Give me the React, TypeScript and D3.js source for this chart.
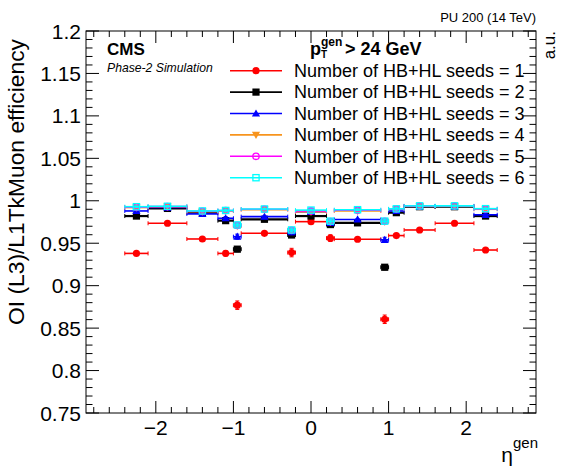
import React from "react";
import * as d3 from "d3";

const binEdges = [-2.4, -2.1, -1.6, -1.2, -1.0, -0.9, -0.3, -0.2, 0.2, 0.3, 0.9, 1.0, 1.2, 1.6, 2.1, 2.4];

const seeds1 = [0.938, 0.9735, 0.955, 0.938, 0.877, 0.9617, 0.939, 0.9754, 0.956, 0.9547, 0.8604, 0.959, 0.9656, 0.9735, 0.942];
const seeds1Err = [0.002, 0.001, 0.0015, 0.003, 0.005, 0.001, 0.005, 0.0015, 0.004, 0.001, 0.005, 0.002, 0.001, 0.001, 0.0015];
const seeds2 = [0.982, 0.991, 0.986, 0.9766, 0.943, 0.9782, 0.9597, 0.982, 0.972, 0.974, 0.9217, 0.986, 0.993, 0.993, 0.982];
const seeds2Err = [0.0015, 0.001, 0.001, 0.002, 0.003, 0.001, 0.003, 0.001, 0.002, 0.001, 0.003, 0.002, 0.001, 0.001, 0.0015];
const seeds3 = [0.988, 0.992, 0.9845, 0.9794, 0.9577, 0.9813, 0.963, 0.987, 0.974, 0.978, 0.954, 0.988, 0.9935, 0.9935, 0.9835];
const seeds3Err = [0.0015, 0.001, 0.001, 0.002, 0.003, 0.001, 0.003, 0.001, 0.002, 0.001, 0.003, 0.002, 0.001, 0.001, 0.0015];
const seeds4 = [0.992, 0.993, 0.9872, 0.988, 0.9705, 0.9895, 0.965, 0.987, 0.9752, 0.988, 0.9755, 0.99, 0.9935, 0.9935, 0.990];
const seeds5 = [0.9925, 0.9932, 0.9876, 0.9884, 0.971, 0.99, 0.9653, 0.988, 0.9756, 0.9888, 0.9758, 0.9902, 0.9938, 0.9938, 0.9904];
const seeds6 = [0.993, 0.9935, 0.988, 0.9886, 0.9715, 0.9903, 0.9656, 0.989, 0.976, 0.9895, 0.976, 0.9905, 0.994, 0.994, 0.9907];
const smallErr = [0.001, 0.001, 0.001, 0.0015, 0.002, 0.001, 0.002, 0.001, 0.002, 0.001, 0.002, 0.0015, 0.001, 0.001, 0.001];

const legendLabels = [
  "Number of HB+HL seeds = 1",
  "Number of HB+HL seeds = 2",
  "Number of HB+HL seeds = 3",
  "Number of HB+HL seeds = 4",
  "Number of HB+HL seeds = 5",
  "Number of HB+HL seeds = 6",
];
const colors = ["#ff0000", "#000000", "#0000ff", "#f7941d", "#ff00ff", "#00ffff"];
const markers = ["circle", "square", "triangle", "invtriangle", "opencircle", "opensquare"];

const yTicks = [0.75, 0.8, 0.85, 0.9, 0.95, 1.0, 1.05, 1.1, 1.15, 1.2];
const yTickLabels = ["0.75", "0.8", "0.85", "0.9", "0.95", "1", "1.05", "1.1", "1.15", "1.2"];
const xTicks = [-2, -1, 0, 1, 2];
const xTickLabels = ["\u22122", "\u22121", "0", "1", "2"];

const FONT = "'Liberation Sans', Arial, Helvetica, sans-serif";

const L = 86, R = 536, T = 31, B = 413;

function Marker({ type, x, y, color }: { type: string; x: number; y: number; color: string }) {
  const s = 3.6;
  switch (type) {
    case "circle":
      return <circle cx={x} cy={y} r={s} fill={color} />;
    case "square":
      return <rect x={x - s} y={y - s} width={2 * s} height={2 * s} fill={color} />;
    case "triangle":
      return <path d={`M${x},${y - s - 0.5}L${x + s + 0.5},${y + s - 0.5}L${x - s - 0.5},${y + s - 0.5}Z`} fill={color} />;
    case "invtriangle":
      return <path d={`M${x},${y + s + 0.5}L${x + s + 0.5},${y - s + 0.5}L${x - s - 0.5},${y - s + 0.5}Z`} fill={color} />;
    case "opencircle":
      return <circle cx={x} cy={y} r={s - 0.4} fill="none" stroke={color} strokeWidth={1.3} />;
    default:
      return <rect x={x - s + 0.5} y={y - s + 0.5} width={2 * s - 1} height={2 * s - 1} fill="none" stroke={color} strokeWidth={1.3} />;
  }
}

export default function App() {
  const x = d3.scaleLinear().domain([-2.9, 2.9]).range([L, R]);
  const y = d3.scaleLinear().domain([0.75, 1.2]).range([B, T]);

  const series = [
    { vals: seeds1, errs: seeds1Err },
    { vals: seeds2, errs: seeds2Err },
    { vals: seeds3, errs: seeds3Err },
    { vals: seeds4, errs: smallErr },
    { vals: seeds5, errs: smallErr },
    { vals: seeds6, errs: smallErr },
  ];

  const yMinor = d3.range(75, 121).map((v) => v / 100);
  const xMinor = d3.range(-14, 15).map((v) => v / 5);

  const legendY = [70.7, 92.1, 113.5, 134.9, 156.3, 177.7];

  return (
    <svg width={564} height={466} style={{ position: "absolute", left: 0, top: 0, background: "#fff" }} fontFamily={FONT}>
      <rect x={0} y={0} width={564} height={466} fill="#fff" />
      {series.map((s, si) => (
        <g key={si}>
          {s.vals.map((v, i) => {
            const x0 = x(binEdges[i]);
            const x1 = x(binEdges[i + 1]);
            const xc = x((binEdges[i] + binEdges[i + 1]) / 2);
            const yc = y(v);
            const yl = y(v - s.errs[i]);
            const yh = y(v + s.errs[i]);
            const sw = si === 1 ? 2.2 : 1.6;
            return (
              <g key={i} stroke={colors[si]} strokeWidth={sw}>
                <line x1={x0} x2={x1} y1={yc} y2={yc} />
                <line x1={x0} x2={x0} y1={yc - 2} y2={yc + 2} strokeWidth={1} />
                <line x1={x1} x2={x1} y1={yc - 2} y2={yc + 2} strokeWidth={1} />
                <line x1={xc} x2={xc} y1={yl} y2={yh} />
                <line x1={xc - 2} x2={xc + 2} y1={yl} y2={yl} strokeWidth={1} />
                <line x1={xc - 2} x2={xc + 2} y1={yh} y2={yh} strokeWidth={1} />
              </g>
            );
          })}
          {s.vals.map((v, i) => (
            <Marker key={"m" + i} type={markers[si]} x={x((binEdges[i] + binEdges[i + 1]) / 2)} y={y(v)} color={colors[si]} />
          ))}
        </g>
      ))}

      <rect x={L} y={T} width={R - L} height={B - T} fill="none" stroke="#000" strokeWidth={1} />
      {yMinor.map((t, i) => {
        const major = Math.round(t * 100) % 5 === 0;
        const len = major ? 13 : 6.5;
        return (
          <g key={"y" + i} stroke="#000" strokeWidth={1}>
            <line x1={L} x2={L + len} y1={y(t)} y2={y(t)} />
            <line x1={R} x2={R - len} y1={y(t)} y2={y(t)} />
          </g>
        );
      })}
      {xMinor.map((t, i) => {
        const major = Math.abs(t - Math.round(t)) < 1e-6;
        const len = major ? 12 : 6;
        return (
          <g key={"x" + i} stroke="#000" strokeWidth={1}>
            <line x1={x(t)} x2={x(t)} y1={B} y2={B - len} />
            <line x1={x(t)} x2={x(t)} y1={T} y2={T + len} />
          </g>
        );
      })}
      {yTicks.map((t, i) => (
        <text key={"yl" + i} x={81} y={y(t)} dy="0.36em" textAnchor="end" fontSize={21} fill="#000">
          {yTickLabels[i]}
        </text>
      ))}
      {xTicks.map((t, i) => (
        <text key={"xl" + i} x={x(t)} y={435} textAnchor="middle" fontSize={21} fill="#000">
          {xTickLabels[i]}
        </text>
      ))}

      <text transform="translate(24,39) rotate(-90)" textAnchor="end" fontSize={22.8} fill="#000">
        OI (L3)/L1TkMuon efficiency
      </text>
      <text x={R + 2} y={462} textAnchor="end" fontSize={21} fill="#000">
        η<tspan dy={-14} fontSize={15}>gen</tspan>
      </text>
      <text transform="translate(555,31) rotate(-90)" textAnchor="end" fontSize={17} fill="#000">
        a.u.
      </text>

      <text x={R} y={22} textAnchor="end" fontSize={13} fill="#000">PU 200 (14 TeV)</text>
      <text x={107} y={55} fontSize={17} fontWeight="bold" fill="#000">CMS</text>
      <text x={107} y={72} fontSize={12.2} fontStyle="italic" fill="#000">Phase-2 Simulation</text>
      <text x={310} y={55} fontSize={18} fontWeight="bold" fill="#000">p</text>
      <text x={321} y={46} fontSize={12} fontWeight="bold" fill="#000">gen</text>
      <text x={321} y={58} fontSize={10} fontWeight="bold" fill="#000">T</text>
      <text x={345} y={55} fontSize={18} fontWeight="bold" fill="#000">&gt; 24 GeV</text>

      {legendLabels.map((lab, i) => (
        <g key={"lg" + i}>
          <line x1={230} x2={282} y1={legendY[i]} y2={legendY[i]} stroke={colors[i]} strokeWidth={1.6} />
          <Marker type={markers[i]} x={256} y={legendY[i]} color={colors[i]} />
          <text x={294} y={legendY[i] + 6.3} fontSize={18} fill="#000">{lab}</text>
        </g>
      ))}
    </svg>
  );
}
